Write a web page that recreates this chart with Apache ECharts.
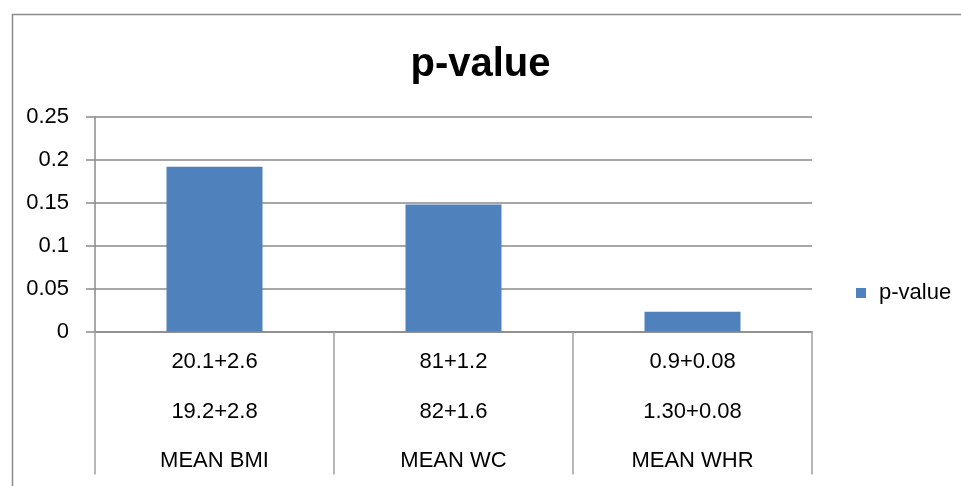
<!DOCTYPE html>
<html>
<head>
<meta charset="utf-8">
<script src="https://cdn.jsdelivr.net/npm/echarts@6/dist/echarts.min.js"></script>
<style>html,body{margin:0;padding:0;background:#fff;}#c{width:961px;height:486px;}</style>
</head>
<body>
<div id="c"></div>
<script>
var categories = ['MEAN BMI', 'MEAN WC', 'MEAN WHR'];
var row1 = ['20.1+2.6', '81+1.2', '0.9+0.08'];
var row2 = ['19.2+2.8', '82+1.6', '1.30+0.08'];
var pValues = [0.192, 0.148, 0.023];
var yTicks = [0, 0.05, 0.1, 0.15, 0.2, 0.25];

var FONT = '"Liberation Sans", Arial, sans-serif';
var chart = echarts.init(document.getElementById('c'), null, {renderer: 'canvas'});
var gray = '#8a8a8a';
chart.setOption({
  animation: false,
  backgroundColor: '#fff',
  title: {
    text: 'p-value', left: 'center', top: 40,
    textStyle: {fontFamily: FONT, fontWeight: 'bold', fontSize: 40, color: '#000'}
  },
  legend: {
    data: ['p-value'], left: 851, top: 277, itemWidth: 10, itemHeight: 10,
    icon: 'rect',
    textStyle: {fontFamily: FONT, fontSize: 22, color: '#000', padding: [0, 0, 0, 8]}
  },
  grid: {left: 95, right: 149, top: 117, bottom: 150, containLabel: false},
  xAxis: {
    type: 'category',
    data: categories,
    axisLine: {lineStyle: {color: gray, width: 1.5}},
    axisTick: {show: true, length: 143, lineStyle: {color: '#a0a0a0', width: 1.5}},
    axisLabel: {
      interval: 0, margin: 6, fontFamily: FONT, fontSize: 22, color: '#000', lineHeight: 49.5,
      formatter: function (v, i) { return row1[i] + '\n' + row2[i] + '\n' + v; }
    }
  },
  yAxis: {
    type: 'value', min: 0, max: 0.25, interval: 0.05,
    axisLine: {show: true, lineStyle: {color: gray, width: 1.5}},
    axisTick: {show: true, length: 9, lineStyle: {color: gray, width: 1.5}},
    splitLine: {lineStyle: {color: gray, width: 1.5}},
    axisLabel: {
      margin: 26, fontFamily: FONT, fontSize: 22, color: '#000',
      formatter: function (v) {
        for (var k = 0; k < yTicks.length; k++) { if (Math.abs(yTicks[k] - v) < 1e-9) return String(yTicks[k]); }
        return '';
      }
    }
  },
  graphic: [{
    type: 'rect', left: 10, top: 12, shape: {width: 1000, height: 600},
    style: {fill: 'none', stroke: gray, lineWidth: 1.5}, silent: true, z: -1
  }],
  series: [{
    name: 'p-value', type: 'bar', data: pValues, barWidth: 96,
    itemStyle: {color: '#4F81BD'}
  }]
});
</script>
</body>
</html>
